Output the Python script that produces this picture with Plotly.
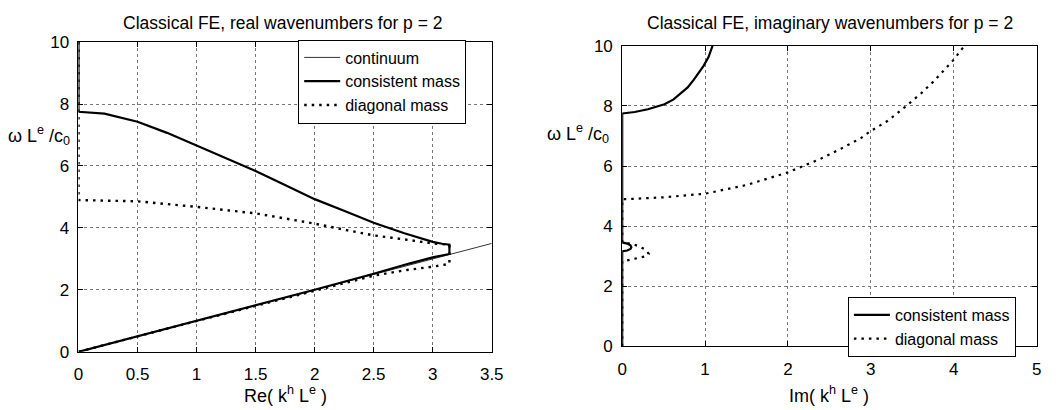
import plotly.graph_objects as go

# ---------------- data ----------------
# Left panel: real part of wavenumber
cont_x = [0.0, 3.5]
cont_y = [0.0, 3.5]

# consistent mass: Re=0 branch, optical branch, stop band at pi, acoustic branch
cons_re_x = [0.0, 0.0, 0.22, 0.5, 0.75, 1.0, 1.25, 1.5, 1.74, 2.0, 2.27, 2.5, 2.76, 3.0, 3.08, 3.1416,
             3.1416, 3.0, 2.8, 2.5, 2.0, 1.5, 1.0, 0.5, 0.0]
cons_re_y = [10.0, 7.75, 7.69, 7.43, 7.07, 6.66, 6.25, 5.84, 5.40, 4.93, 4.52, 4.17, 3.83, 3.55, 3.49, 3.46,
             3.16, 3.05, 2.85, 2.52, 2.005, 1.5, 1.0, 0.5, 0.0]

# diagonal mass
diag_re_x = [0.0, 0.0, 0.5, 1.0, 1.5, 1.72, 2.0, 2.27, 2.5, 2.76, 3.0, 3.1416,
             3.1416, 3.0, 2.76, 2.5, 2.0, 1.5, 1.0, 0.5, 0.0]
diag_re_y = [10.0, 4.90, 4.86, 4.68, 4.47, 4.33, 4.14, 3.93, 3.76, 3.63, 3.50, 3.46,
             2.84, 2.75, 2.63, 2.46, 1.98, 1.485, 0.995, 0.5, 0.0]

# Right panel: imaginary part of wavenumber
cons_im_x = [0.0, 0.0, 0.06, 0.10, 0.11, 0.10, 0.06, 0.0, 0.0, 0.08, 0.15, 0.31, 0.43, 0.51, 0.62, 0.70,
             0.79, 0.86, 0.92, 0.98, 1.04, 1.09]
cons_im_y = [0.0, 3.16, 3.19, 3.24, 3.30, 3.36, 3.42, 3.46, 7.75, 7.77, 7.80, 7.89, 7.98, 8.06, 8.22, 8.40,
             8.62, 8.86, 9.08, 9.33, 9.62, 10.0]

diag_im_x = [0.0, 0.0, 0.06, 0.17, 0.27, 0.32, 0.28, 0.20, 0.12, 0.0, 0.0, 0.06, 0.5, 1.0, 1.5, 2.0, 2.4,
             2.64, 2.88, 3.0, 3.2, 3.41, 3.61, 3.75, 3.87, 3.99, 4.10, 4.13]
diag_im_y = [0.0, 2.83, 2.86, 2.92, 2.99, 3.08, 3.22, 3.33, 3.41, 3.46, 4.90, 4.90, 4.96, 5.08, 5.37, 5.79, 6.25,
             6.58, 6.93, 7.17, 7.50, 7.96, 8.43, 8.80, 9.15, 9.51, 9.90, 10.0]

left_xticks = [0, 0.5, 1, 1.5, 2, 2.5, 3, 3.5]
left_xtext = ["0", "0.5", "1", "1.5", "2", "2.5", "3", "3.5"]
yticks = [0, 2, 4, 6, 8, 10]
right_xticks = [0, 1, 2, 3, 4, 5]

W, H = 1056, 410
FONT = "Liberation Sans, Arial, Helvetica, sans-serif"
DOT = "2.5px,5px"

fig = go.Figure()

fig.add_trace(go.Scatter(x=cont_x, y=cont_y, mode="lines", name="continuum",
                         line=dict(color="black", width=0.8), xaxis="x", yaxis="y",
                         legend="legend"))
fig.add_trace(go.Scatter(x=cons_re_x, y=cons_re_y, mode="lines", name="consistent mass",
                         line=dict(color="black", width=2.2), xaxis="x", yaxis="y",
                         legend="legend"))
fig.add_trace(go.Scatter(x=diag_re_x, y=diag_re_y, mode="lines", name="diagonal mass",
                         line=dict(color="black", width=2.4, dash=DOT), xaxis="x", yaxis="y",
                         legend="legend"))

fig.add_trace(go.Scatter(x=cons_im_x, y=cons_im_y, mode="lines", name="consistent mass",
                         line=dict(color="black", width=2.2), xaxis="x2", yaxis="y2",
                         legend="legend2"))
fig.add_trace(go.Scatter(x=diag_im_x, y=diag_im_y, mode="lines", name="diagonal mass",
                         line=dict(color="black", width=2.2, dash=DOT), xaxis="x2", yaxis="y2",
                         legend="legend2"))

axis_common = dict(showline=True, linecolor="black", linewidth=1, mirror="ticks",
                   ticks="inside", ticklen=5, tickcolor="black",
                   showgrid=True, gridcolor="#777", griddash="dot", gridwidth=1,
                   zeroline=False, tickfont=dict(family=FONT, size=17, color="black"))

legend_common = dict(xanchor="left", yanchor="top", bordercolor="black", borderwidth=1,
                     bgcolor="white", font=dict(family=FONT, size=16, color="black"),
                     itemwidth=36, tracegroupgap=0)

fig.update_layout(
    width=W, height=H,
    margin=dict(l=0, r=0, t=0, b=0),
    paper_bgcolor="white", plot_bgcolor="white",
    font=dict(family=FONT, color="black"),
    xaxis=dict(domain=[74.7 / W, 494.7 / W], range=[0, 3.5], tickvals=left_xticks,
               ticktext=left_xtext, anchor="y", ticklabelstandoff=7, **axis_common),
    yaxis=dict(domain=[(H - 359.5) / H, (H - 34.7) / H], range=[0, 10], tickvals=yticks,
               anchor="x", ticklabelstandoff=5, **axis_common),
    xaxis2=dict(domain=[627.3 / W, 1048.5 / W], range=[0, 5], tickvals=right_xticks,
                anchor="y2", ticklabelstandoff=7, **axis_common),
    yaxis2=dict(domain=[(H - 353.7) / H, (H - 38.7) / H], range=[0, 10], tickvals=yticks,
                anchor="x2", ticklabelstandoff=5, **axis_common),
    legend=dict(x=298 / W, y=(H - 32) / H, **legend_common),
    legend2=dict(x=856.7 / W, y=(H - 302) / H, **legend_common),
    showlegend=True,
)

ann_font = dict(family=FONT, size=18, color="black")
title_font = dict(family=FONT, size=17.5, color="black")
fig.add_annotation(text="Classical FE, real wavenumbers for p = 2", xref="paper", yref="paper",
                   x=283 / W, y=(H - 15) / H, xanchor="center", yanchor="middle",
                   showarrow=False, font=title_font)
fig.add_annotation(text="Classical FE, imaginary wavenumbers for p = 2", xref="paper", yref="paper",
                   x=838 / W, y=(H - 15) / H, xanchor="center", yanchor="middle",
                   showarrow=False, font=title_font)
fig.add_annotation(text="Re( k<sup>h</sup> L<sup>e</sup> )", xref="paper", yref="paper",
                   x=285 / W, y=(H - 404) / H, xanchor="center", yanchor="middle",
                   showarrow=False, font=ann_font)
fig.add_annotation(text="Im( k<sup>h</sup> L<sup>e</sup> )", xref="paper", yref="paper",
                   x=837 / W, y=(H - 404) / H, xanchor="center", yanchor="middle",
                   showarrow=False, font=ann_font)
fig.add_annotation(text="ω L<sup>e</sup> /c<sub>0</sub>", xref="paper", yref="paper",
                   x=68 / W, y=(H - 133) / H, xanchor="right", yanchor="middle",
                   showarrow=False, font=ann_font)
fig.add_annotation(text="ω L<sup>e</sup> /c<sub>0</sub>", xref="paper", yref="paper",
                   x=616 / W, y=(H - 131) / H, xanchor="right", yanchor="middle",
                   showarrow=False, font=ann_font)

fig.write_html("out.html")
